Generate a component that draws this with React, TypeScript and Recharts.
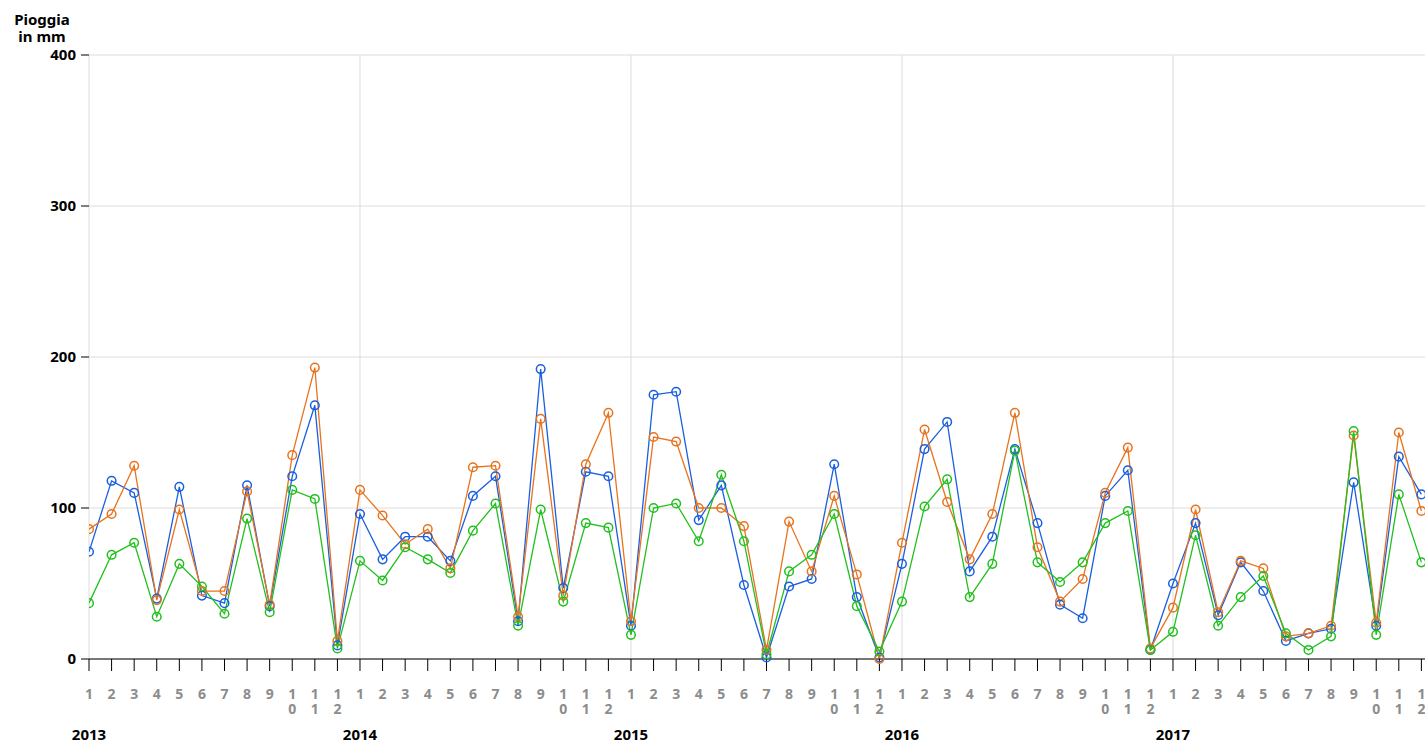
import React from 'react';
import { LineChart, Line, XAxis, YAxis, CartesianGrid, ReferenceLine } from 'recharts';

const years = ['2013', '2014', '2015', '2016', '2017'];
const months = ['1', '2', '3', '4', '5', '6', '7', '8', '9', '10', '11', '12'];

const seriesBlue = [
  71, 118, 110, 40, 114, 42, 37, 115, 35, 121, 168, 9,
  96, 66, 81, 81, 65, 108, 121, 25, 192, 47, 124, 121,
  22, 175, 177, 92, 115, 49, 1, 48, 53, 129, 41, 1,
  63, 139, 157, 58, 81, 139, 90, 36, 27, 108, 125, 6,
  50, 90, 29, 64, 45, 12, 17, 20, 117, 22, 134, 109,
];
const seriesOrange = [
  86, 96, 128, 39, 99, 45, 45, 111, 36, 135, 193, 12,
  112, 95, 76, 86, 60, 127, 128, 28, 159, 42, 129, 163,
  25, 147, 144, 100, 100, 88, 6, 91, 58, 108, 56, 0,
  77, 152, 104, 66, 96, 163, 74, 38, 53, 110, 140, 7,
  34, 99, 31, 65, 60, 15, 17, 22, 148, 24, 150, 98,
];
const seriesGreen = [
  37, 69, 77, 28, 63, 48, 30, 93, 31, 112, 106, 7,
  65, 52, 74, 66, 57, 85, 103, 22, 99, 38, 90, 87,
  16, 100, 103, 78, 122, 78, 3, 58, 69, 96, 35, 5,
  38, 101, 119, 41, 63, 138, 64, 51, 64, 90, 98, 6,
  18, 82, 22, 41, 55, 17, 6, 15, 151, 16, 109, 64,
];
const yTicks = [0, 100, 200, 300, 400];

const data = seriesBlue.map((b, i) => ({
  idx: i,
  year: years[Math.floor(i / 12)],
  month: months[i % 12],
  blue: b,
  orange: seriesOrange[i],
  green: seriesGreen[i],
}));
const xTicks = data.map((d) => d.idx);
const yearStarts = data.filter((d) => d.month === '1').map((d) => d.idx);

const FONT = '"Noto Sans", "DejaVu Sans", sans-serif';

const MonthTick = (props: any) => {
  const { x, y, payload } = props;
  const d = data[payload.value];
  if (!d) return null;
  const chars = d.month.split('');
  return (
    <g>
      <text
        x={x}
        y={y + 26}
        textAnchor="middle"
        fontFamily={FONT}
        fontWeight="bold"
        fontSize={14}
        fill="#8c8c8c"
      >
        {chars.map((c, k) => (
          <tspan key={k} x={x} dy={k === 0 ? 0 : 15}>
            {c}
          </tspan>
        ))}
      </text>
      {d.month === '1' && (
        <text
          x={x}
          y={y + 67}
          textAnchor="middle"
          fontFamily={FONT}
          fontWeight="bold"
          fontSize={15}
          fill="#000"
        >
          {d.year}
        </text>
      )}
    </g>
  );
};

const YTick = (props: any) => {
  const { x, y, payload } = props;
  return (
    <text
      x={x - 3}
      y={y + 5}
      textAnchor="end"
      fontFamily={FONT}
      fontWeight="bold"
      fontSize={15}
      fill="#000"
    >
      {payload.value}
    </text>
  );
};

const dot = (color: string) => ({ r: 4.3, stroke: color, strokeWidth: 1.5, fill: 'none' });

export default function App() {
  return (
    <div style={{ position: 'absolute', left: 0, top: 0, width: 1425, height: 745, background: '#fff' }}>
      <LineChart
        width={1425}
        height={745}
        data={data}
        margin={{ top: 55, right: 0, bottom: 0, left: 0 }}
      >
        <CartesianGrid vertical={false} stroke="#dcdcdc" strokeWidth={1} />
        {yearStarts.map((v) => (
          <ReferenceLine key={v} x={v} stroke="#dcdcdc" strokeWidth={1} ifOverflow="extendDomain" />
        ))}
        <XAxis
          dataKey="idx"
          type="number"
          domain={[0, 59.16]}
          ticks={xTicks}
          interval={0}
          height={86}
          axisLine={{ stroke: '#000', strokeWidth: 1 }}
          tickLine={{ stroke: '#000', strokeWidth: 1 }}
          tickSize={12}
          tick={<MonthTick />}
          allowDataOverflow
        />
        <YAxis
          type="number"
          domain={[0, 400]}
          ticks={yTicks}
          width={89}
          axisLine={false}
          tickLine={{ stroke: '#000', strokeWidth: 1 }}
          tickSize={8}
          tick={<YTick />}
        />
        <Line type="linear" dataKey="blue" stroke="#1a5fe0" strokeWidth={1.3} dot={dot('#1a5fe0')} activeDot={false} isAnimationActive={false} />
        <Line type="linear" dataKey="orange" stroke="#e8731e" strokeWidth={1.3} dot={dot('#e8731e')} activeDot={false} isAnimationActive={false} />
        <Line type="linear" dataKey="green" stroke="#22c01e" strokeWidth={1.3} dot={dot('#22c01e')} activeDot={false} isAnimationActive={false} />
        <text x={42} y={25} textAnchor="middle" fontFamily={FONT} fontWeight="bold" fontSize={15} fill="#000">Pioggia</text>
        <text x={42} y={42} textAnchor="middle" fontFamily={FONT} fontWeight="bold" fontSize={15} fill="#000">in mm</text>
      </LineChart>
    </div>
  );
}
